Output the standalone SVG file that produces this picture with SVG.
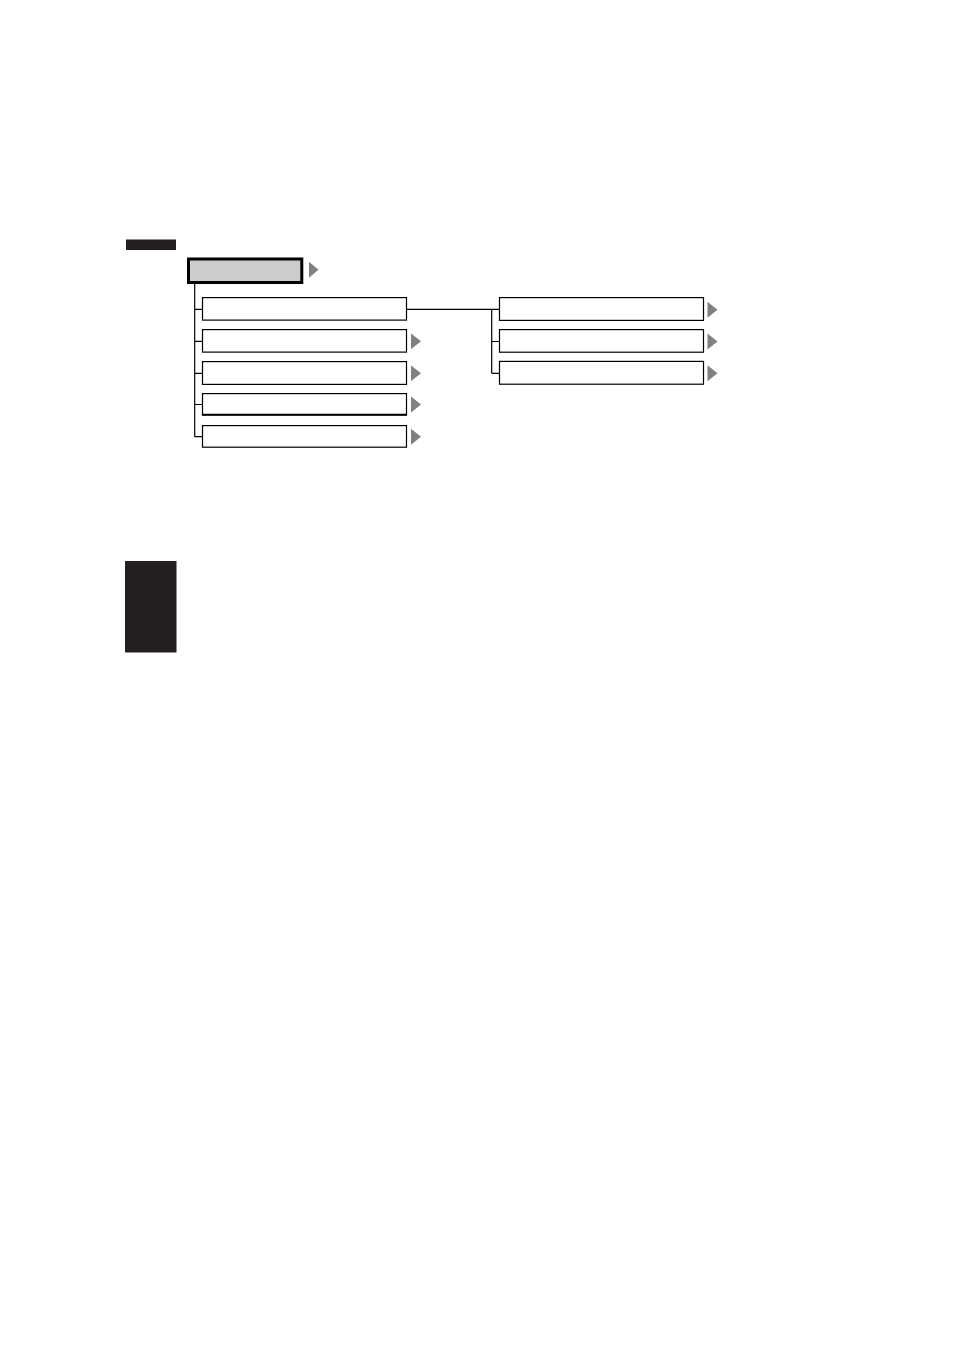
<svg xmlns="http://www.w3.org/2000/svg" width="954" height="1350" viewBox="0 0 954 1350">
<style>
.box{fill:#ffffff;stroke:#000000;stroke-width:1.2}
.top{fill:#cccccc;stroke:#000000;stroke-width:3}
.tri{fill:#808080}
.ln{fill:none;stroke:#000000;stroke-width:1.2}
.blk{fill:#231f20}
</style>
<rect width="954" height="1350" fill="#ffffff"/>
<rect class="blk" x="126" y="239.5" width="50" height="10.5"/>
<rect class="blk" x="125" y="561" width="51.5" height="91.5"/>
<g id="connectors">
<path class="ln" d="M194.7 284 V436.7 M194.7 309.3 H202.5 M194.7 341.3 H202.5 M194.7 373.3 H202.5 M194.7 404.5 H202.5 M194.7 436.7 H202.5"/>
<path class="ln" d="M406.7 309.3 H491.7 M491.7 309.3 V373.3 M491.7 309.3 H499.5 M491.7 341.5 H499.5 M491.7 373.3 H499.5"/>
</g>
<g id="root">
<rect class="top" x="188.5" y="259" width="113.3" height="23.5"/>
<polygon class="tri" points="309,261.7 318.5,269.7 309,277.7"/>
</g>
<g id="n1"><rect class="box" x="202.5" y="297.6" width="204" height="22.5"/></g>
<g id="n2"><rect class="box" x="202.5" y="329.6" width="204" height="22.5"/><polygon class="tri" points="411,333.5 421,341.3 411,349.3"/></g>
<g id="n3"><rect class="box" x="202.5" y="361.6" width="204" height="22.8"/><polygon class="tri" points="411,365.5 421,373.3 411,381.3"/></g>
<g id="n4"><rect class="box" x="202.5" y="393.6" width="204" height="21.5"/><line x1="202" y1="414.6" x2="407" y2="414.6" stroke="#000" stroke-width="1.6"/><polygon class="tri" points="411,396.5 421,404.5 411,412.5"/></g>
<g id="n5"><rect class="box" x="202.5" y="425.6" width="204" height="21.6"/><polygon class="tri" points="411,428.7 421,436.7 411,444.7"/></g>
<g id="m1"><rect class="box" x="499.5" y="297.6" width="204" height="22.8"/><polygon class="tri" points="707.5,301.7 717.5,309.7 707.5,317.7"/></g>
<g id="m2"><rect class="box" x="499.5" y="329.6" width="204" height="22.6"/><polygon class="tri" points="707.5,333.5 717.5,341.5 707.5,349.5"/></g>
<g id="m3"><rect class="box" x="499.5" y="361.4" width="204" height="22.8"/><polygon class="tri" points="707.5,365.3 717.5,373.3 707.5,381.3"/></g>
</svg>
